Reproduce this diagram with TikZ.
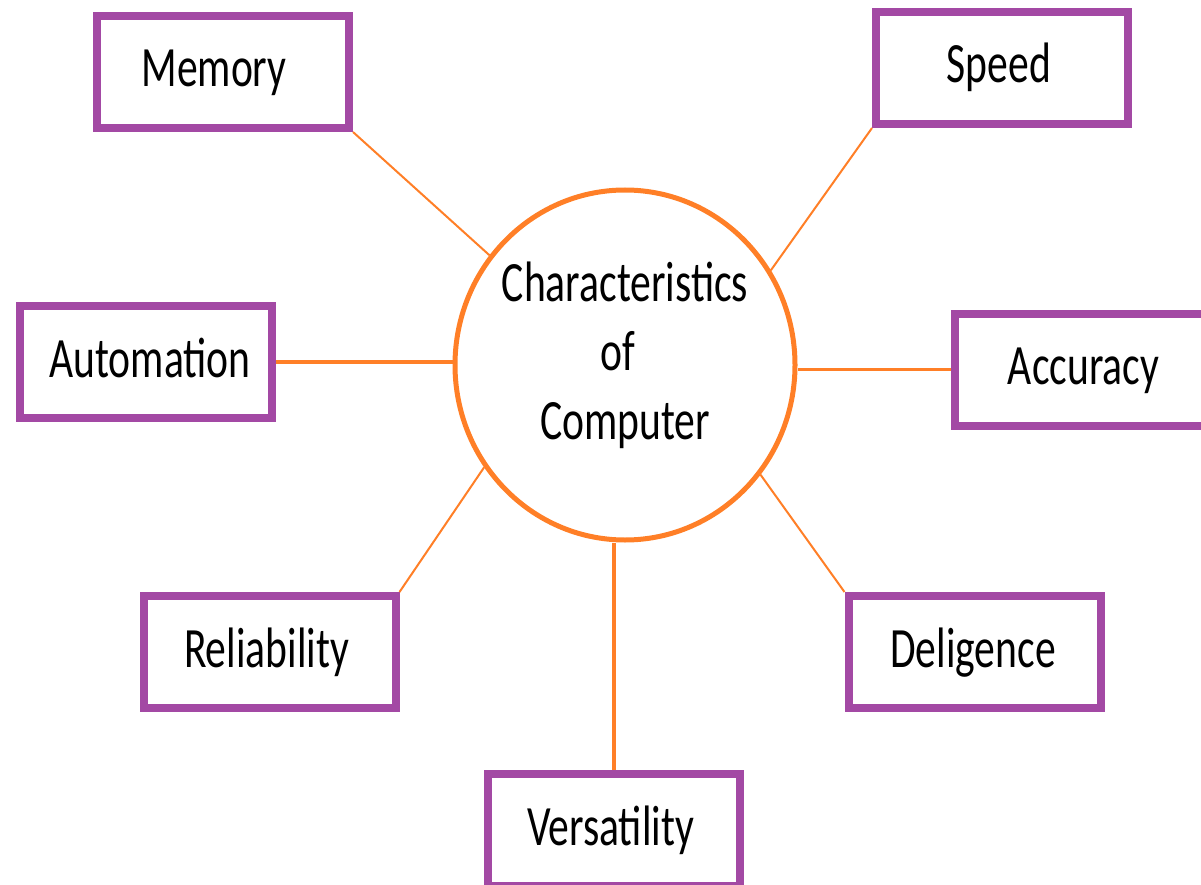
\documentclass[tikz,border=0pt]{standalone}
\usepackage{fontspec}
\setmainfont{Carlito}[FakeStretch=0.73]
\usetikzlibrary{shapes.geometric}
\definecolor{boxpurple}{HTML}{A349A4}
\definecolor{linkorange}{HTML}{FF7F27}
\begin{document}
\begin{tikzpicture}[x=1pt,y=-1pt,
  labelfont/.style={font=\fontsize{57}{69}\selectfont},
  trait/.style={draw=boxpurple, line width=8pt, minimum width=252pt,
    minimum height=112pt, inner sep=0pt, text height=40pt, text depth=10pt,
    labelfont},
  thinlink/.style={draw=linkorange, line width=2pt},
  thicklink/.style={draw=linkorange, line width=3.3pt}]
\useasboundingbox (0,0) rectangle (1201,885);

% central hub
\node[ellipse, draw=linkorange, line width=5pt, minimum width=340pt,
      minimum height=350pt, inner sep=0pt] (hub) at (625,365) {};
\node[align=center, labelfont, inner sep=0pt] (hubtext) at (625,355.5)
      {Characteristics\\of\kern14pt\\Computer};

% characteristic boxes
\node[trait] (mem) at (223,72)    {Memory\kern18pt};
\node[trait] (spd) at (1002,68)   {Speed\kern6pt};
\node[trait] (aut) at (146,362)   {\kern8pt Automation};
\node[trait] (acc) at (1081,369.5){\kern5pt Accuracy};
\node[trait] (rel) at (269.5,652) {Reliability\kern6pt};
\node[trait] (dil) at (974.5,652) {Deligence\kern3pt};
\node[trait] (ver) at (614,830)   {Versatility\kern7pt};

% connectors
\draw[thinlink]  (mem.south east) -- (hub.141.8);
\draw[thinlink]  (spd.south west) -- (hub.33.1);
\draw[thinlink]  (rel.north east) -- (hub.216.2);
\draw[thinlink]  (dil.north west) -- (hub.-39.3);
\draw[thicklink] (aut.east) -- (aut.east -| hub.west);
\draw[thicklink] (acc.west) -- (acc.west -| hub.east);
\draw[thicklink] (ver.north) -- (ver.north |- hub.south);
\end{tikzpicture}
\end{document}
